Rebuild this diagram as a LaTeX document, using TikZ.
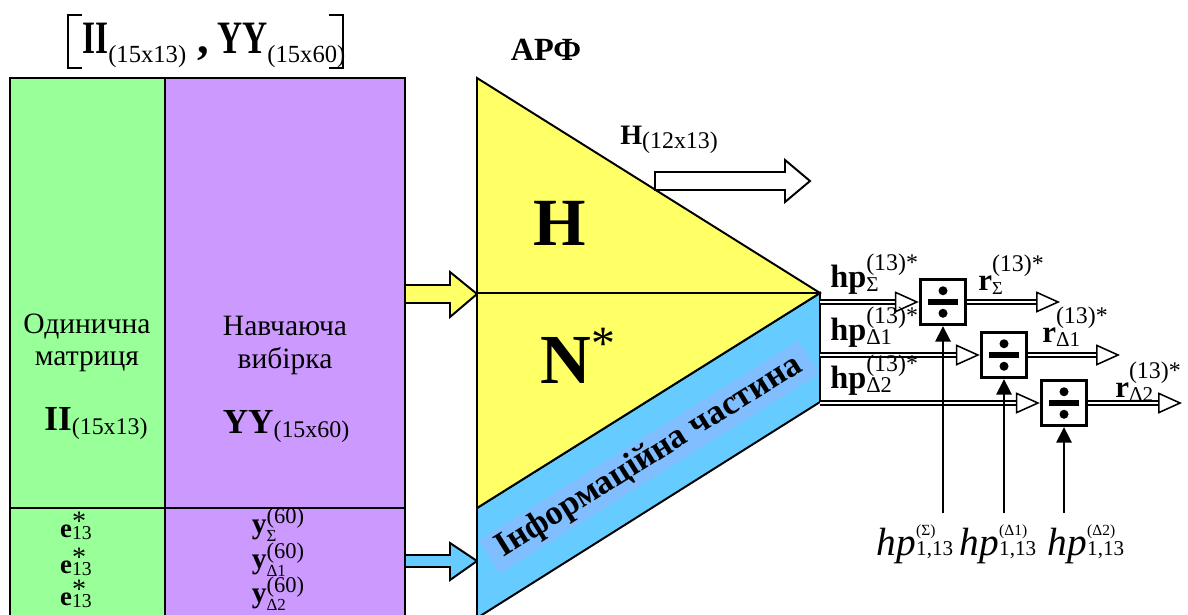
\documentclass[tikz,border=0pt]{standalone}
\usepackage{graphicx}
\usepackage{fontspec}
\setmainfont{Liberation Serif}
\usetikzlibrary{arrows.meta,positioning}

\definecolor{cGREEN}{RGB}{153,255,153}
\definecolor{cPURPLE}{RGB}{204,153,255}
\definecolor{cYELLOW}{RGB}{255,255,102}
\definecolor{cBLUE}{RGB}{102,204,255}
\definecolor{cLABEL}{RGB}{128,190,255}

\newcommand{\fsz}[1]{\fontsize{#1}{#1}\selectfont}
% raised / lowered small text: {shift}{size}{text}
\newcommand{\xsup}[3]{\raisebox{#1}{\fsz{#2}#3}}
\newcommand{\xsub}[3]{\raisebox{-#1}{\fsz{#2}#3}}
\newsavebox\supbox
\newsavebox\subbox
\newcommand{\xboth}[6]{\sbox\supbox{\xsup{#1}{#2}{#3}}\sbox\subbox{\xsub{#4}{#5}{#6}}%
  \ifdim\wd\supbox>\wd\subbox\rlap{\usebox\subbox}\usebox\supbox
  \else\rlap{\usebox\supbox}\usebox\subbox\fi}

\tikzset{
  outl/.style={draw=black,line width=1.4pt},
  txt/.style={inner sep=0pt,anchor=base},
  dbl/.style={double,double distance=1.6pt,line width=1.1pt,
    -{Triangle[fill=white,length=17pt,width=15pt,line width=1.1pt]}},
  vin/.style={line width=1.2pt,-{Triangle[length=11pt,width=11pt]}},
  divbox/.style={draw,line width=2.4pt,fill=white,minimum size=32pt,inner sep=0pt},
}

\begin{document}
\begin{tikzpicture}[x=0.025cm,y=-0.025cm]
\useasboundingbox (0,0) rectangle (1188,614);
% columns
\fill[cGREEN] (10,78) rectangle (165,640);
\fill[cPURPLE] (165,78) rectangle (405,640);
\draw[outl] (10,78) rectangle (165,640);
\draw[outl] (165,78) rectangle (405,640);
\draw[outl] (10,508) -- (405,508);
% top label
\node[txt,anchor=base west,font=\fsz{33}] (top) at (82,53)
  {\scalebox{.72}[1]{\bfseries II}\xsub{.2em}{17.5}{(15x13)}\ \textbf{,}\,\scalebox{.75}[1]{\bfseries YY}\xsub{.2em}{17.5}{(15x60)}};
\draw[line width=1pt] (82,15) -- (68,15) -- (68,68) -- (82,68);
\draw[line width=1pt] (329,15) -- (343,15) -- (343,68) -- (329,68);
% column texts
\node[txt,font=\fsz{21}] (onea) at (87,333) {Одинична};
\node[txt,font=\fsz{21}] (oneb) at (87,365) {матриця};
\node[txt,font=\fsz{25}] (onec) at (96,430) {\textbf{II}\xsub{.14em}{17}{(15x13)}};
\node[txt,font=\fsz{21}] (twoa) at (285,335) {Навчаюча};
\node[txt,font=\fsz{21}] (twob) at (285,368) {вибірка};
\node[txt,font=\fsz{25}] (twoc) at (286,433) {\textbf{YY}\xsub{.14em}{17}{(15x60)}};
\node[txt,font=\fsz{19}] (ea) at (76,537) {\textbf{e}\xboth{.23em}{20}{*}{.11em}{14}{13}};
\node[txt,font=\fsz{19}] (eb) at (76,573) {\textbf{e}\xboth{.23em}{20}{*}{.11em}{14}{13}};
\node[txt,font=\fsz{19}] (ec) at (76,605) {\textbf{e}\xboth{.23em}{20}{*}{.11em}{14}{13}};
\node[txt,font=\fsz{21}] (ya) at (278,533) {\textbf{y}\xboth{.33em}{16}{(60)}{.3em}{12}{Σ}};
\node[txt,font=\fsz{21}] (yb) at (278,568) {\textbf{y}\xboth{.33em}{16}{(60)}{.3em}{12}{Δ1}};
\node[txt,font=\fsz{21}] (yc) at (278,602) {\textbf{y}\xboth{.33em}{16}{(60)}{.3em}{12}{Δ2}};
% input arrows
\draw[outl,fill=cYELLOW] (405,285) -- (450,285) -- (450,272) -- (477,294) -- (450,317) -- (450,303) -- (405,303) -- cycle;
\draw[outl,fill=cBLUE] (405,555) -- (450,555) -- (450,543) -- (477,561) -- (450,580) -- (450,567) -- (405,567) -- cycle;
% network
\draw[outl,fill=cBLUE] (477,508) -- (820,293) -- (820,402) -- (477,618) -- cycle;
\draw[outl,fill=cYELLOW] (477,78) -- (820,293) -- (477,508) -- cycle;
\draw[outl] (477,293) -- (820,293);
\node[fill=cLABEL,rotate=32,minimum width=268pt,minimum height=28pt,inner sep=0pt]
  (info) at (649,457) {\resizebox{252pt}{17pt}{\bfseries Інформаційна частина}};
\node[txt,font=\fsz{23}\bfseries] (arf) at (546,60) {АРФ};
\node[txt,font=\fsz{48}\bfseries] (hh) at (560,245) {H};
\node[txt,anchor=base west,font=\fsz{50}] (nn) at (540,383) {\textbf{N}\xsup{.33em}{34}{*}};
% H output
\node[txt,font=\fsz{20},anchor=base west] (hout) at (620,144) {\textbf{H}\xsub{.17em}{17}{(12x13)}};
\draw[outl,fill=white] (655,172) -- (785,172) -- (785,160) -- (810,181) -- (785,202) -- (785,190) -- (655,190) -- cycle;
% dividers
\node[divbox] (div1) at (943,302) {};
\node[divbox] (div2) at (1004,355) {};
\node[divbox] (div3) at (1064,403) {};
\foreach \d in {div1,div2,div3} {
  \fill ([shift={(-15,-2.6)}]\d.center) rectangle ([shift={(15,2.6)}]\d.center);
  \fill ([yshift=8pt]\d.center) circle (4.5);
  \fill ([yshift=-8pt]\d.center) circle (4.5);
}
\coordinate (o1) at (820,302);
\coordinate (o2) at (820,355);
\coordinate (o3) at (820,403);
\coordinate (r1) at (1060,302);
\coordinate (r2) at (1120,355);
\coordinate (r3) at (1182,403);
\draw[dbl] (o1) -- (div1.west);
\draw[dbl] (o2) -- (div2.west);
\draw[dbl] (o3) -- (div3.west);
\draw[dbl] (div1.east) -- (r1);
\draw[dbl] (div2.east) -- (r2);
\draw[dbl] (div3.east) -- (r3);
\node[txt,anchor=base west,font=\fsz{23}] (hpa) at (830,287) {\textbf{hp}\xboth{.52em}{17}{(13)*}{.15em}{15}{Σ}};
\node[txt,anchor=base west,font=\fsz{23}] (hpb) at (830,340) {\textbf{hp}\xboth{.52em}{17}{(13)*}{.15em}{16}{Δ1}};
\node[txt,anchor=base west,font=\fsz{23}] (hpc) at (830,388) {\textbf{hp}\xboth{.52em}{17}{(13)*}{.15em}{16}{Δ2}};
\node[txt,anchor=base west,font=\fsz{22}] (ra) at (978,290) {\textbf{r}\xboth{.6em}{17}{(13)*}{.16em}{13}{Σ}};
\node[txt,anchor=base west,font=\fsz{22}] (rb) at (1042,342) {\textbf{r}\xboth{.6em}{17}{(13)*}{.16em}{15}{Δ1}};
\node[txt,anchor=base west,font=\fsz{22}] (rc) at (1115,397) {\textbf{r}\xboth{.6em}{17}{(13)*}{.16em}{15}{Δ2}};
% thresholds
\node[txt,font=\fsz{28}] (tha) at (915,555) {\textit{hp}\xboth{.5em}{11}{(Σ)}{0em}{15}{1,13}};
\node[txt,font=\fsz{28}] (thb) at (998,555) {\textit{hp}\xboth{.5em}{11}{(Δ1)}{0em}{15}{1,13}};
\node[txt,font=\fsz{28}] (thc) at (1086,555) {\textit{hp}\xboth{.5em}{11}{(Δ2)}{0em}{15}{1,13}};
\coordinate (ba) at (943,513);
\coordinate (bb) at (1004,513);
\coordinate (bc) at (1064,513);
\draw[vin] (ba) -- (div1.south);
\draw[vin] (bb) -- (div2.south);
\draw[vin] (bc) -- (div3.south);
\end{tikzpicture}
\end{document}
